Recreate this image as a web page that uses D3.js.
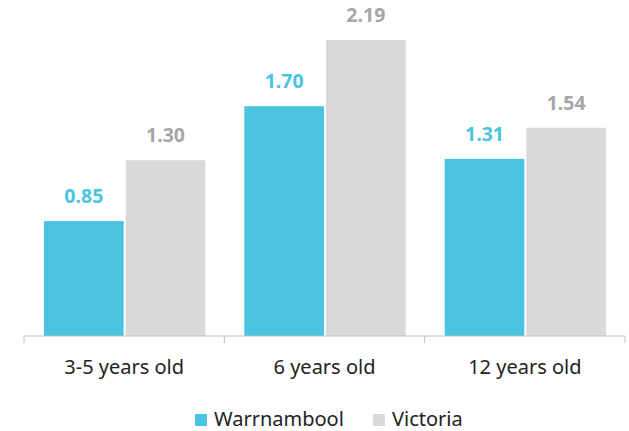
<!DOCTYPE html>
<html>
<head>
<meta charset="utf-8">
<script src="https://cdn.jsdelivr.net/npm/d3@7"></script>
<style>
  body { margin: 0; background: #fff; }
  text { font-family: "Noto Sans", "Open Sans", sans-serif; }
</style>
</head>
<body>
<div id="chart"></div>
<script>
// data
var categories = ["3-5 years old", "6 years old", "12 years old"];
var seriesNames = ["Warrnambool", "Victoria"];
var warrnambool = [0.85, 1.70, 1.31];
var victoria = [1.30, 2.19, 1.54];

var colors = ["#4BC4E2", "#D9D9D9"];
var labelColors = ["#4BC4E2", "#A6A6A6"];

var width = 629, height = 431;

var svg = d3.select("#chart").append("svg")
    .attr("width", width)
    .attr("height", height);

// group scale along the axis
var x0 = d3.scaleBand()
    .domain(categories)
    .range([24, 625])
    .padding(0);

var x1 = d3.scaleBand()
    .domain(seriesNames)
    .range([20, x0.bandwidth() - 19])
    .paddingInner(0.025);

var yScale = d3.scaleLinear()
    .domain([0, 2.5])
    .range([336, -2]);

var rows = categories.map(function(c, i) {
    return {cat: c, vals: [warrnambool[i], victoria[i]]};
});

var groups = svg.selectAll(".grp")
    .data(rows)
    .enter().append("g")
    .attr("class", "grp")
    .attr("transform", function(d) { return "translate(" + x0(d.cat) + ",0)"; });

groups.selectAll("rect")
    .data(function(d) { return d.vals.map(function(v, j) { return {s: seriesNames[j], v: v, j: j}; }); })
    .enter().append("rect")
    .attr("x", function(d) { return x1(d.s); })
    .attr("y", function(d) { return yScale(d.v); })
    .attr("width", x1.bandwidth())
    .attr("height", function(d) { return yScale(0) - yScale(d.v); })
    .attr("fill", function(d) { return colors[d.j]; });

groups.selectAll(".val")
    .data(function(d) { return d.vals.map(function(v, j) { return {s: seriesNames[j], v: v, j: j}; }); })
    .enter().append("text")
    .attr("class", "val")
    .attr("x", function(d) { return x1(d.s) + x1.bandwidth() / 2; })
    .attr("y", function(d) { return yScale(d.v) - 18; })
    .attr("text-anchor", "middle")
    .attr("font-size", "19.5px")
    .attr("font-weight", "bold")
    .attr("fill", function(d) { return labelColors[d.j]; })
    .text(function(d) { return d3.format(".2f")(d.v); });

// x axis: line with ticks at the group boundaries
var axis = svg.append("g")
    .attr("class", "x axis")
    .attr("transform", "translate(0," + yScale(0) + ")");

axis.append("line")
    .attr("x1", x0.range()[0]).attr("x2", x0.range()[1])
    .attr("stroke", "#BFBFBF").attr("stroke-width", 1);

var bounds = categories.map(function(c) { return x0(c); }).concat([x0.range()[1]]);
axis.selectAll(".tick")
    .data(bounds)
    .enter().append("line")
    .attr("x1", function(d) { return d; }).attr("x2", function(d) { return d; })
    .attr("y1", 0).attr("y2", 7)
    .attr("stroke", "#BFBFBF");

axis.selectAll(".cat")
    .data(categories)
    .enter().append("text")
    .attr("x", function(d) { return x0(d) + x0.bandwidth() / 2; })
    .attr("y", 38)
    .attr("text-anchor", "middle")
    .attr("font-size", "20px")
    .attr("fill", "#222")
    .text(function(d) { return d; });

// legend
var legendX = [195, 373];
var legend = svg.selectAll(".legend")
    .data(seriesNames)
    .enter().append("g")
    .attr("class", "legend")
    .attr("transform", function(d, i) { return "translate(" + legendX[i] + ",414)"; });

legend.append("rect")
    .attr("width", 12).attr("height", 12)
    .attr("fill", function(d, i) { return colors[i]; });

legend.append("text")
    .attr("x", 19)
    .attr("y", 12)
    .attr("font-size", "20px")
    .attr("fill", "#222")
    .text(function(d) { return d; });
</script>
</body>
</html>
